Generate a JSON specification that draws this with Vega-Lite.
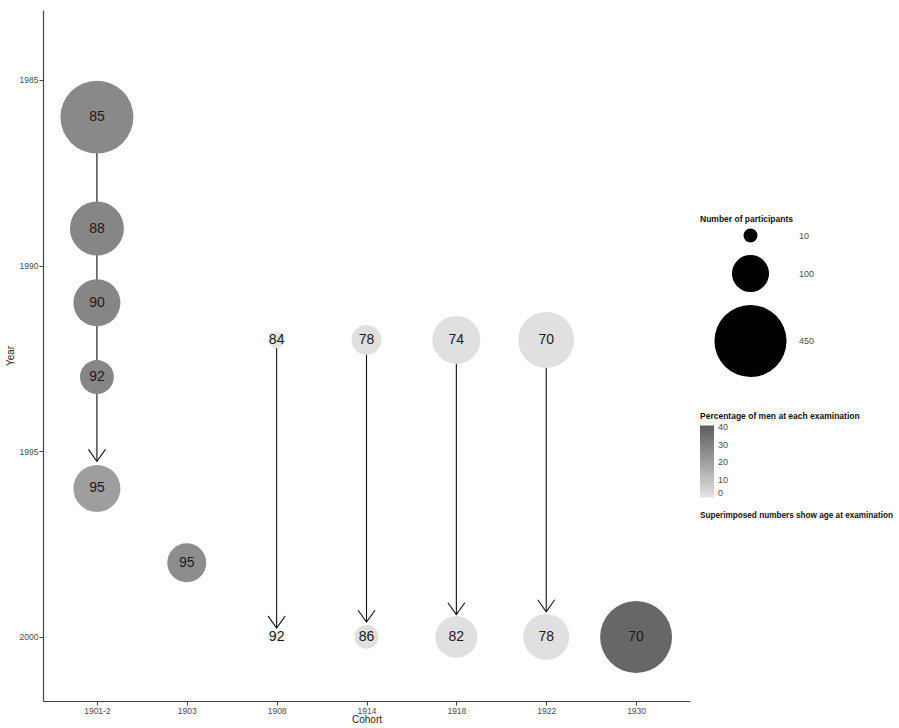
{
  "$schema": "https://vega.github.io/schema/vega-lite/v6.json",
  "width": 647,
  "height": 691,
  "padding": {"left": 5, "top": 10, "right": 0, "bottom": 0},
  "background": "white",
  "config": {
    "view": {"stroke": null},
    "font": "Liberation Sans",
    "axis": {
      "grid": false,
      "labelFont": "Liberation Sans",
      "labelFontSize": 8.5,
      "labelColor": "#4d4d4d",
      "titleFont": "Liberation Sans",
      "titleFontSize": 10,
      "titleFontWeight": "normal",
      "titleColor": "#222222",
      "tickSize": 4,
      "tickColor": "#444444",
      "domainColor": "#444444",
      "domainWidth": 1.2,
      "tickWidth": 1
    },
    "legend": {
      "titleFont": "Liberation Sans",
      "titleFontSize": 8.5,
      "titleFontWeight": "bold",
      "titleColor": "#111111",
      "titleLimit": 400,
      "labelFont": "Liberation Sans",
      "labelFontSize": 9,
      "labelColor": "#4d4d4d",
      "padding": 0
    }
  },
  "datasets": {
    "exams": [
      {"cohort": "1901-2", "year": 1986, "age": 85, "n": 462, "pct": 27},
      {"cohort": "1901-2", "year": 1989, "age": 88, "n": 237, "pct": 28},
      {"cohort": "1901-2", "year": 1991, "age": 90, "n": 173, "pct": 28},
      {"cohort": "1901-2", "year": 1993, "age": 92, "n": 81, "pct": 28},
      {"cohort": "1901-2", "year": 1996, "age": 95, "n": 173, "pct": 20.5},
      {"cohort": "1903", "year": 1998, "age": 95, "n": 112, "pct": 26},
      {"cohort": "1908", "year": 1992, "age": 84, "n": 15, "pct": 0},
      {"cohort": "1908", "year": 2000, "age": 92, "n": 5, "pct": 0},
      {"cohort": "1914", "year": 1992, "age": 78, "n": 60, "pct": 1},
      {"cohort": "1914", "year": 2000, "age": 86, "n": 35, "pct": 1},
      {"cohort": "1918", "year": 1992, "age": 74, "n": 181, "pct": 1},
      {"cohort": "1918", "year": 2000, "age": 82, "n": 133, "pct": 1},
      {"cohort": "1922", "year": 1992, "age": 70, "n": 257, "pct": 1},
      {"cohort": "1922", "year": 2000, "age": 78, "n": 165, "pct": 1},
      {"cohort": "1930", "year": 2000, "age": 70, "n": 448, "pct": 38}
    ],
    "arrows": [
      {"cohort": "1901-2", "start": 1986, "tip": 1995.27},
      {"cohort": "1908", "start": 1992, "tip": 1999.76},
      {"cohort": "1914", "start": 1992, "tip": 1999.6},
      {"cohort": "1918", "start": 1992, "tip": 1999.4},
      {"cohort": "1922", "start": 1992, "tip": 1999.32}
    ]
  },
  "encoding": {
    "x": {
      "field": "cohort",
      "type": "ordinal",
      "sort": ["1901-2", "1903", "1908", "1914", "1918", "1922", "1930"],
      "scale": {"type": "point", "padding": 0.6},
      "axis": {"title": "Cohort", "labelAngle": 0, "labelPadding": 1, "titlePadding": 0}
    }
  },
  "layer": [
    {
      "data": {"name": "arrows"},
      "mark": {"type": "rule", "color": "#111111", "strokeWidth": 1.1},
      "encoding": {
        "y": {
          "field": "start",
          "type": "quantitative",
          "scale": {"domain": [1983.115, 2001.725], "reverse": true, "nice": false, "zero": false},
          "axis": {"title": "Year", "values": [1985, 1990, 1995, 2000], "format": "d", "labelPadding": 1, "titlePadding": 4}
        },
        "y2": {"field": "tip"}
      }
    },
    {
      "data": {"name": "exams"},
      "mark": {"type": "point", "shape": "circle", "filled": true, "opacity": 1, "strokeWidth": 0},
      "encoding": {
        "y": {"field": "year", "type": "quantitative"},
        "size": {
          "field": "n",
          "type": "quantitative",
          "scale": {
            "domain": [5, 10, 30, 60, 100, 150, 200, 300, 450, 490],
            "range": [49, 193, 502, 894, 1376, 1954, 2510, 3600, 5198, 5625]
          },
          "legend": {
            "title": "Number of participants",
            "orient": "none",
            "legendX": 657,
            "legendY": 205,
            "values": [10, 100, 450],
            "symbolFillColor": "black",
            "symbolStrokeWidth": 0,
            "symbolOpacity": 1,
            "symbolOffset": 14,
            "labelOffset": 12,
            "rowPadding": 12,
            "titlePadding": 5
          }
        },
        "color": {
          "field": "pct",
          "type": "quantitative",
          "scale": {"domain": [0, 41], "range": ["#e4e4e4", "#5e5e5e"]},
          "legend": {
            "title": "Percentage of men at each examination",
            "orient": "none",
            "legendX": 657,
            "legendY": 402,
            "values": [0, 10, 20, 30, 40],
            "gradientLength": 72,
            "gradientThickness": 14,
            "gradientStrokeWidth": 0,
            "labelOffset": 4,
            "titlePadding": 5
          }
        }
      }
    },
    {
      "data": {"name": "arrows"},
      "mark": {"type": "point", "shape": "M-1,-1.4L0,0L1,-1.4", "filled": false, "stroke": "#111111", "strokeWidth": 1.1, "opacity": 1, "size": 289},
      "encoding": {
        "y": {"field": "tip", "type": "quantitative"}
      }
    },
    {
      "data": {"name": "exams"},
      "mark": {"type": "text", "font": "Liberation Sans", "fontSize": 14, "color": "#1a1a1a", "baseline": "middle", "align": "center"},
      "encoding": {
        "y": {"field": "year", "type": "quantitative"},
        "text": {"field": "age", "type": "quantitative"}
      }
    },
    {
      "data": {"name": "exams"},
      "mark": {"type": "point", "opacity": 0},
      "encoding": {
        "y": {"field": "year", "type": "quantitative"},
        "shape": {
          "datum": "note",
          "type": "nominal",
          "legend": {
            "title": "Superimposed numbers show age at examination",
            "titleFontSize": 8.2,
            "orient": "none",
            "legendX": 657,
            "legendY": 502,
            "labelExpr": "''",
            "symbolOpacity": 0,
            "symbolSize": 1,
            "titlePadding": 0
          }
        }
      }
    }
  ]
}
